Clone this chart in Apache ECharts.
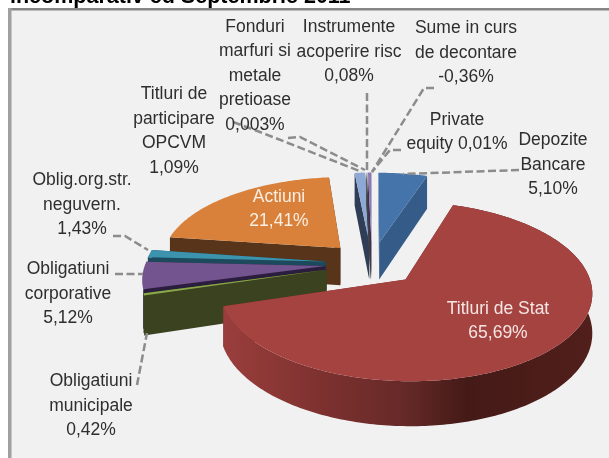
<!DOCTYPE html>
<html>
<head>
<meta charset="utf-8">
<style>html,body{margin:0;padding:0;background:#fff}#c{width:609px;height:458px}</style>
<script src="https://cdn.jsdelivr.net/npm/echarts@6/dist/echarts.min.js"></script>
</head>
<body>
<div id="c"></div>
<script>
// ---- data, clockwise from twelve o'clock ----
const categories = ['Depozite\nBancare','Titluri de Stat','Obligatiuni\nmunicipale','Obligatiuni\ncorporative','Oblig.org.str.\nneguvern.','Actiuni','Titluri de\nparticipare\nOPCVM','Fonduri\nmarfuri si\nmetale\npretioase','Instrumente\nacoperire risc','Sume in curs\nde decontare','Private\nequity'];
const values = [5.10,65.69,0.42,5.12,1.43,21.41,1.09,0.003,0.08,-0.36,0.01];
const valueLabels = ['5,10%','65,69%','0,42%','5,12%','1,43%','21,41%','1,09%','0,003%','0,08%','-0,36%','0,01%'];
const titleText = 'incomparativ cu Septembrie 2011';

// ---- styling ----
const topColors = ['#4474a9','#a54341','#8aa848','#74548f','#3b93ad','#d9813a','#8fa9d6','#a0a0c0','#b0b0c8','#8c7ab0','#8c7ab0'];
const wallColors = ['#355c88','#7c302e','#3a421f','#2b1d3d','#1c4a5c','#58341a','#2f3e55','#444','#444','#3d3055','#3d3055'];
const paintOrder = [6,7,8,9,10,0,5,4,3,2,1];
const labelAnchors = [[553,165],[498,321],[91,406],[68,294],[82,205],[279,209],[174,131],[255,76],[349,52],[466,53],[457,132]];
const labelColors = {1:'#f5e6e4',5:'#fbeee2'};
const leaders = [
  [[519,170],[403,174]],
  [[137,385],[147,333]],
  [[115,274],[143,274]],
  [[113,236],[125,236],[148,250]],
  [[233,122],[260,132],[362,172]],
  [[288,138],[300,137],[365,170]],
  [[367,93],[367,172]],
  [[434,88],[424,88],[372,172]],
  [[401,150],[390,150],[372,172]]
];

// ---- projection of the exploded pie ----
const X0=372, Y0=263.5, SX=180, SY=84, K=0.13, EXPLODE=0.26, DEPTH=38;
const ARC_WALL_SLICE = 1;
const total = values.reduce((s,v)=>s+Math.abs(v),0);
const rad = d=>d*Math.PI/180;
const project = (u,v)=>{const w=1-K*v; return {x:X0+SX*u/w, y:Y0+SY*v/w, d:DEPTH/w};};
let acc=0;
const spans = values.map(v=>{const a=acc/total*360; acc+=Math.abs(v); return [a,acc/total*360];});

function slicePieces(i){
  const [a0,a1]=spans[i];
  const mid=rad((a0+a1)/2);
  const eu=EXPLODE*Math.sin(mid), ev=-EXPLODE*Math.cos(mid);
  const apex=project(eu,ev);
  const rim=[];
  const steps=Math.max(1,Math.ceil(a1-a0));
  for(let s=0;s<=steps;s++){
    const t=rad(a0+(a1-a0)*s/steps);
    rim.push(project(eu+Math.sin(t),ev-Math.cos(t)));
  }
  const down=p=>[p.x,p.y+p.d];
  const up=p=>[p.x,p.y];
  const wall=(pts)=>pts.map(up).concat(pts.slice().reverse().map(down));
  const pieces=[
    {type:'polygon',shape:{points:wall([apex,rim[0]])},style:{fill:wallColors[i]}},
    {type:'polygon',shape:{points:wall([apex,rim[rim.length-1]])},style:{fill:wallColors[i]}}
  ];
  if(i===ARC_WALL_SLICE){
    const arcFill=new echarts.graphic.LinearGradient(0,0,1,0,[
      {offset:0,color:'#9a3e3c'},{offset:.25,color:'#7f3230'},{offset:.5,color:'#642927'},
      {offset:.66,color:'#441a17'},{offset:1,color:'#521f1b'}]);
    pieces.push({type:'polygon',shape:{points:wall(rim)},style:{fill:arcFill}});
  }
  pieces.push({type:'polygon',shape:{points:[up(apex)].concat(rim.map(up))},style:{fill:topColors[i]}});
  return pieces;
}

const option = {
  animation:false,
  backgroundColor:'#ffffff',
  graphic:[
    {type:'rect',shape:{x:8,y:8,width:601,height:450},style:{fill:'#f1f1f1'},z:0},
    {type:'rect',shape:{x:8,y:8,width:601,height:2.5},style:{fill:'#858585'},z:1},
    {type:'rect',shape:{x:8,y:8,width:3.5,height:450},style:{fill:'#a0a0a0'},z:1},
    {type:'text',x:10,y:-14,style:{text:titleText,font:'bold 21.5px "Liberation Sans"',fill:'#000'},z:1}
  ],
  series:[
    {type:'custom',coordinateSystem:'none',z:2,silent:true,
     data:paintOrder.map(i=>[i]),
     renderItem:(p,api)=>({type:'group',children:slicePieces(api.value(0))})},
    {type:'custom',coordinateSystem:'none',z:3,silent:true,
     data:leaders.map((l,i)=>[i]),
     renderItem:(p,api)=>({type:'polyline',shape:{points:leaders[api.value(0)]},
       style:{fill:'none',stroke:'#8c8c8c',lineWidth:2.5,lineDash:[8,3.5]}})},
    {type:'custom',coordinateSystem:'none',z:4,silent:true,
     data:categories.map((c,i)=>[i]),
     renderItem:(p,api)=>{
       const i=api.value(0), sep=i===10?' ':'\n';
       return {type:'text',x:labelAnchors[i][0],y:labelAnchors[i][1],
         style:{text:categories[i]+sep+valueLabels[i],font:'17.5px "Liberation Sans"',lineHeight:24.6,
           fill:labelColors[i]||'#2e2e2e',textAlign:'center',textVerticalAlign:'middle'}};
     }}
  ]
};
const chart=echarts.init(document.getElementById('c'),null,{renderer:'canvas'});
chart.setOption(option);
</script>
</body>
</html>
